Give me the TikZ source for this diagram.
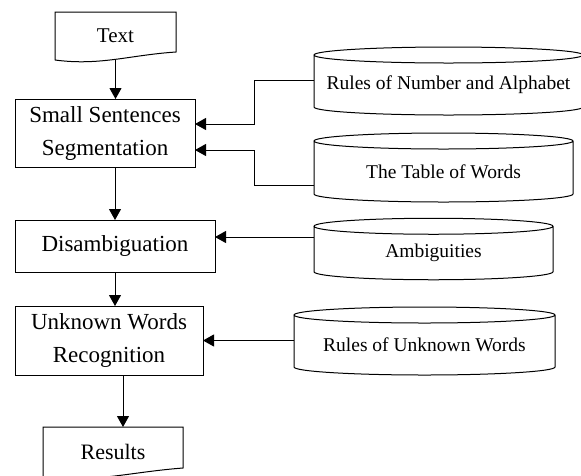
\documentclass[tikz,border=0pt]{standalone}
\usepackage{fontspec}
\setmainfont{Liberation Serif}
\usetikzlibrary{calc}
\usetikzlibrary{arrows.meta}

% cylinder drawn round a node that spans from the top ellipse centre to the bottom
\newcommand{\drawcyl}[1]{%
  \draw[line] let \p1=(#1.north west), \p2=(#1.north east) in
    (#1.north) ellipse [x radius={0.5*(\x2-\x1)}, y radius=8pt]
    (#1.north west) -- ([yshift=8pt]#1.south west)
    arc [start angle=180, end angle=360, x radius={0.5*(\x2-\x1)}, y radius=8pt]
    -- (#1.north east);}

\begin{document}
\begin{tikzpicture}[x=1pt, y=1pt,
    line/.style={line width=1pt, black},
    arr/.style={line, -{Triangle[width=12pt,length=11pt]}},
    box/.style={draw, line, inner sep=0pt, outer sep=0pt, align=center,
      font=\fontsize{23}{33}\selectfont},
    doc/.style={inner sep=0pt, outer sep=0pt, font=\fontsize{21}{25}\selectfont},
    db/.style={inner sep=0pt, outer sep=0pt, font=\fontsize{19.5}{23}\selectfont}]
  \useasboundingbox (0,0) rectangle (581,-475);

  \node[doc, minimum width=121pt, minimum height=48pt] (txt) at (115.5,-36) {Text};
  \node[box, minimum width=180pt, minimum height=68pt] (seg) at (105,-133) {Small Sentences\\Segmentation};
  \node[box, minimum width=200pt, minimum height=52pt] (dis) at (115,-246) {Disambiguation};
  \node[box, minimum width=188pt, minimum height=69pt] (unk) at (109,-340.5) {Unknown Words\\Recognition};
  \node[doc, font=\fontsize{22}{26}\selectfont, minimum width=140pt, minimum height=50pt] (res) at (113,-452) {Results};

  \node[db, minimum width=269pt, minimum height=60pt] (rna) at (448.5,-85) {Rules of Number and Alphabet};
  \node[db, minimum width=259pt, minimum height=61pt] (tow) at (443.5,-171.5) {The Table of Words};
  \node[db, minimum width=239pt, minimum height=53.5pt] (amb) at (433.5,-253) {Ambiguities};
  \node[db, minimum width=261pt, minimum height=60pt] (ruw) at (424.5,-345) {Rules of Unknown Words};

  % document shapes
  \draw[line] (txt.south west) -- (txt.north west) -- (txt.north east) -- ([yshift=8pt]txt.south east)
    .. controls ([shift={(-46pt,5pt)}]txt.south east) and ([shift={(-76pt,-6pt)}]txt.south east) .. (txt.south west);
  \draw[line] (res.south west) -- (res.north west) -- (res.north east) -- ([yshift=9pt]res.south east)
    .. controls ([shift={(-53pt,5pt)}]res.south east) and ([shift={(-88pt,-6pt)}]res.south east) .. (res.south west);

  % databases
  \drawcyl{rna}
  \drawcyl{tow}
  \drawcyl{amb}
  \drawcyl{ruw}

  \draw[arr] (txt.south) -- (txt.south |- seg.north);
  \draw[arr] (dis.north |- seg.south) -- (dis.north);
  \draw[arr] (dis.south) -- (dis.south |- unk.north);
  \draw[arr] ([xshift=10pt]res.north |- unk.south) -- ([xshift=10pt]res.north);

  \draw[arr] ([yshift=5pt]rna.west) -- ++(-60pt,0) |- ([yshift=9pt]seg.east);
  \draw[arr] ([yshift=-13.5pt]tow.west) -- ++(-60pt,0) |- ([yshift=-17pt]seg.east);
  \draw[arr] ([yshift=16pt]amb.west) -- ([yshift=16pt]amb.west -| dis.east);
  \draw[arr] (ruw.west |- unk.east) -- (unk.east);

\end{tikzpicture}
\end{document}
